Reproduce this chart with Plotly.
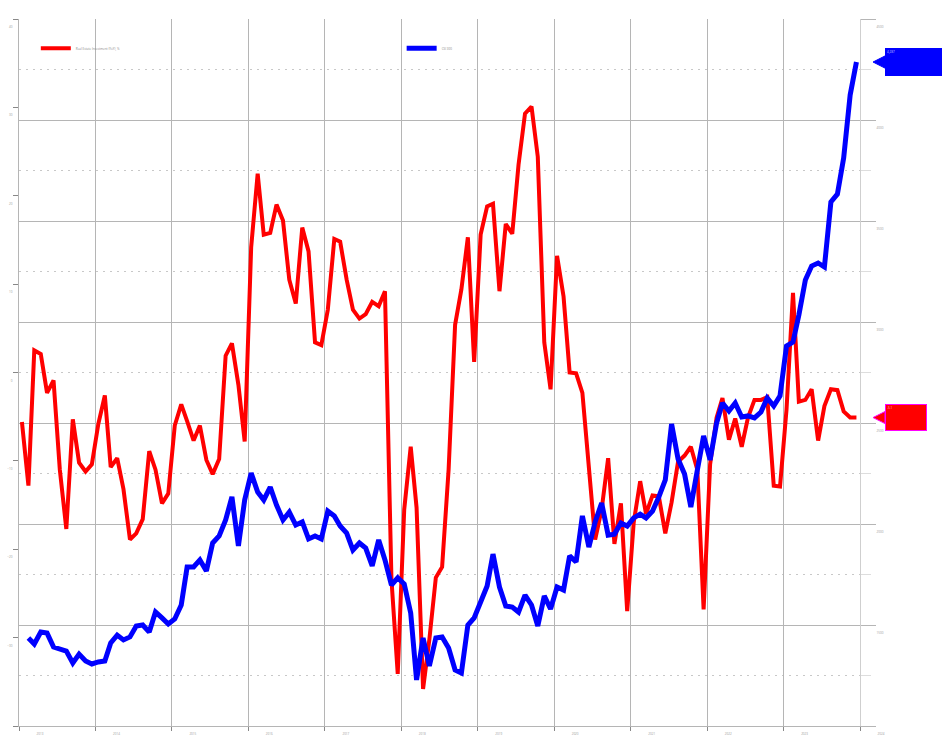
import pandas as pd
import plotly.graph_objects as go

# Monthly observations, Jan 2013 - Dec 2023 (plotted mid-month)
months = pd.date_range("2013-01-01", periods=132, freq="MS") + pd.Timedelta(days=14)

red_name = "Real Estate Investment (YoY), %"
blue_name = "CSI 300"

red_values = [
    -5.6, -12.8, 2.5, 2.1, -2.3, -0.9, -11.0, -17.7, -5.3, -10.2, -11.2, -10.4,
    -5.8, -2.6, -10.7, -9.7, -13.2, -18.9, -18.2, -16.6, -8.9, -11.0, -14.8, -13.7,
    -6.0, -3.6, -5.5, -7.7, -6.0, -9.9, -11.5, -9.8, 1.9, 3.3, -1.4, -7.8,
    14.2, 22.5, 15.6, 15.8, 19.0, 17.2, 10.5, 7.8, 16.4, 13.7, 3.4, 3.1,
    7.1, 15.1, 14.8, 10.5, 7.1, 6.1, 6.6, 8.0, 7.5, 9.2, -23.4, -34.1,
    -15.5, -8.4, -15.3, -35.8, -30.2, -23.2, -22.0, -11.0, 5.4, 9.4, 15.3, 1.2,
    15.6, 18.8, 19.1, 9.2, 16.8, 15.7, 23.5, 29.3, 30.1, 24.4, 3.4, -1.9,
    13.2, 8.6, 0.0, -0.1, -2.3, -11.0, -18.9, -15.5, -9.7, -19.4, -14.8, -27.0,
    -17.0, -12.3, -16.0, -13.9, -14.0, -18.2, -14.7, -10.1, -9.4, -8.4, -11.0, -26.8,
    -10.4, -5.1, -2.9, -7.6, -5.2, -8.4, -5.1, -3.1, -3.1, -2.8, -12.8, -12.9,
    -4.2, 9.0, -3.3, -3.1, -1.9, -7.7, -3.8, -1.9, -2.0, -4.4, -5.1, -5.1,
]

blue_values = [
    None,
    1436, 1406, 1465, 1460, 1391, 1381, 1371, 1312, 1356, 1322, 1307, 1317,
    1322, 1411, 1450, 1426, 1441, 1495, 1500, 1465, 1564, 1535, 1505, 1530,
    1599, 1787, 1787, 1822, 1767, 1906, 1941, 2020, 2134, 1891, 2119, 2252,
    2158, 2119, 2183, 2094, 2020, 2059, 1995, 2010, 1926, 1941, 1926, 2064,
    2040, 1990, 1955, 1871, 1906, 1881, 1792, 1921, 1822, 1698, 1733, 1703,
    1559, 1228, 1436, 1297, 1436, 1441, 1386, 1277, 1262, 1500, 1535, 1614,
    1693, 1851, 1688, 1594, 1589, 1564, 1648, 1599, 1495, 1644, 1579, 1688,
    1673, 1842, 1812, 2040, 1886, 2010, 2104, 1945, 1950, 2005, 1990, 2030,
    2049, 2030, 2064, 2134, 2218, 2495, 2322, 2247, 2084, 2267, 2436, 2317,
    2500, 2599, 2559, 2599, 2530, 2535, 2525, 2554, 2624, 2584, 2634, 2881,
    2901, 3035, 3208, 3277, 3292, 3272, 3594, 3633, 3812, 4124, 4287,
]

RED = "#ff0000"
BLUE = "#0000ff"
TICKFONT = dict(size=3, color="#9a9a9a")

fig = go.Figure()
fig.add_trace(go.Scatter(x=months, y=red_values, name=red_name, mode="lines",
                         line=dict(color=RED, width=4), yaxis="y"))
fig.add_trace(go.Scatter(x=months, y=blue_values, name=blue_name, mode="lines",
                         line=dict(color=BLUE, width=5), yaxis="y2",
                         legend="legend2"))

# Price-tag style badges at last values
last_red = red_values[-1]
last_blue = blue_values[-1]
x_tip, x_base = 1.0155, 1.0297
blue_h = 30
red_h = 0.68
fig.add_shape(type="path", xref="paper", yref="y2",
              path=f"M {x_tip},{last_blue} L {x_base},{last_blue + blue_h} L {x_base},{last_blue - blue_h} Z",
              fillcolor=BLUE, line=dict(color=BLUE, width=1), layer="above")
fig.add_shape(type="path", xref="paper", yref="y",
              path=f"M {x_tip},{last_red} L {x_base},{last_red + red_h} L {x_base},{last_red - red_h} Z",
              fillcolor=RED, line=dict(color="#ff00ff", width=1), layer="above")
fig.add_annotation(xref="paper", yref="y2", x=x_base, y=last_blue, xanchor="left",
                   yanchor="middle", text=f"{last_blue:,}", showarrow=False,
                   font=dict(size=3, color="#c8c8ff"), bgcolor=BLUE, bordercolor=BLUE,
                   borderwidth=1, borderpad=1, width=53, height=24, align="left", valign="top")
fig.add_annotation(xref="paper", yref="y", x=x_base, y=last_red, xanchor="left",
                   yanchor="middle", text=f"{last_red}", showarrow=False,
                   font=dict(size=3, color="#ffc8c8"), bgcolor=RED, bordercolor="#ff00ff",
                   borderwidth=1, borderpad=1, width=38, height=23, align="left", valign="top")

fig.update_layout(
    width=945, height=735,
    margin=dict(l=19, r=85, t=19, b=9, autoexpand=False),
    paper_bgcolor="white", plot_bgcolor="white",
    font=dict(family="Open Sans", size=3, color="#9a9a9a"),
    showlegend=True,
    legend=dict(x=0.020, y=0.979, xanchor="left", yanchor="top", orientation="h",
                bgcolor="rgba(0,0,0,0)", font=dict(size=3, color="#8a8a8a")),
    legend2=dict(x=0.455, y=0.979, xanchor="left", yanchor="top", orientation="h",
                 bgcolor="rgba(0,0,0,0)", font=dict(size=3, color="#8a8a8a")),
    xaxis=dict(
        range=["2013-01-01", "2024-01-01"], tick0="2013-01-01", dtick="M12",
        tickformat="%Y", showgrid=True, gridcolor="#b5b5b5", gridwidth=1,
        showline=True, linecolor="#b5b5b5", ticks="outside", ticklen=4,
        tickcolor="#888888", tickfont=TICKFONT, ticklabelshift=21, zeroline=False,
    ),
    yaxis=dict(
        range=[-40, 40], dtick=10, showgrid=False, zeroline=False,
        showline=True, linecolor="#b5b5b5", ticks="outside", ticklen=5,
        tickcolor="#888888", tickfont=TICKFONT, ticklabelshift=8,
    ),
    yaxis2=dict(
        range=[1000, 4500], dtick=500, overlaying="y", side="right",
        showgrid=True, gridcolor="#b5b5b5", gridwidth=1, zeroline=False,
        showline=True, linecolor="#cfcfcf", ticks="outside", ticklen=15,
        tickcolor="#b5b5b5", tickfont=TICKFONT, ticklabelshift=8,
        minor=dict(dtick=250, showgrid=True, griddash="2px,5px", gridcolor="#c8c8c8",
                   ticks="outside", ticklen=10, tickcolor="#dddddd"),
    ),
)

fig.write_html(
    "out.html",
    config={"displayModeBar": False},
    post_script="document.body.style.margin='0';document.body.style.overflow='hidden';",
)
